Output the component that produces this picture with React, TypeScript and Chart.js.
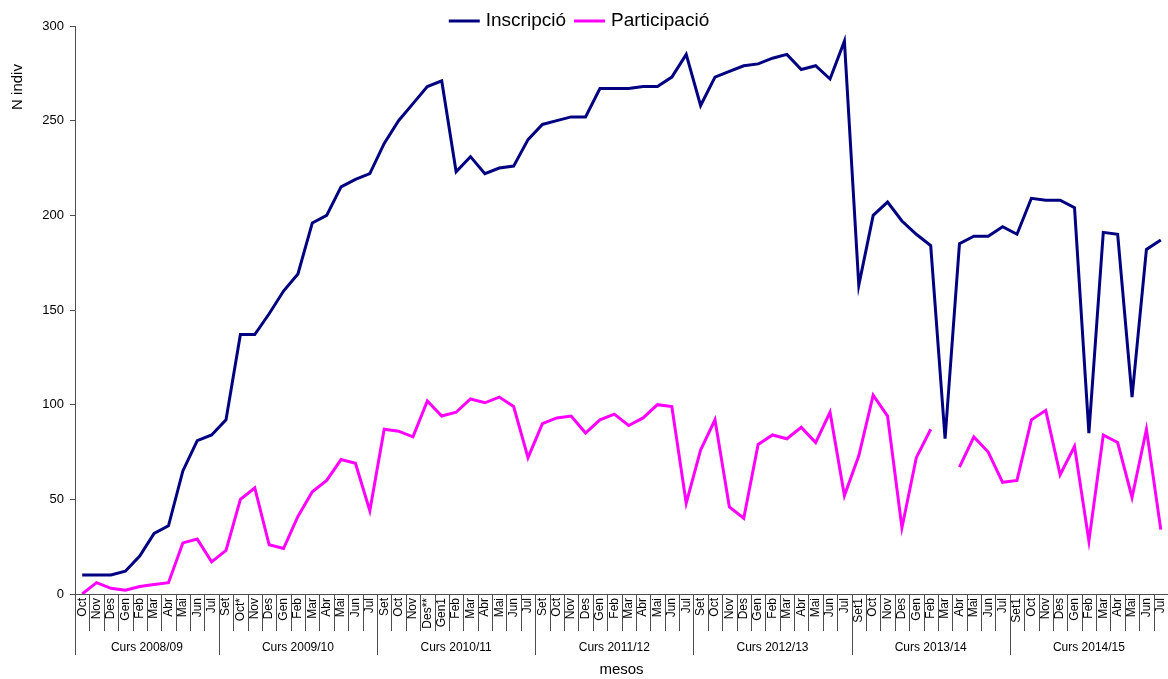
import React, { useEffect, useRef } from "react";
import { Chart, registerables } from "chart.js";

Chart.register(...registerables);

const monthLabels = [
  "Oct", "Nov", "Des", "Gen", "Feb", "Mar", "Abr", "Mai", "Jun", "Jul",
  "Set", "Oct*", "Nov", "Des", "Gen", "Feb", "Mar", "Abr", "Mai", "Jun", "Jul",
  "Set", "Oct", "Nov", "Des**", "Gen1", "Feb", "Mar", "Abr", "Mai", "Jun", "Jul",
  "Set", "Oct", "Nov", "Des", "Gen", "Feb", "Mar", "Abr", "Mai", "Jun", "Jul",
  "Set", "Oct", "Nov", "Des", "Gen", "Feb", "Mar", "Abr", "Mai", "Jun", "Jul",
  "Set1", "Oct", "Nov", "Des", "Gen", "Feb", "Mar", "Abr", "Mai", "Jun", "Jul",
  "Set1", "Oct", "Nov", "Des", "Gen", "Feb", "Mar", "Abr", "Mai", "Jun", "Jul",
];

const courseLabels = [
  "Curs 2008/09", "Curs 2009/10", "Curs 2010/11", "Curs 2011/12",
  "Curs 2012/13", "Curs 2013/14", "Curs 2014/15",
];
const courseLengths = [10, 11, 11, 11, 11, 11, 11];

const inscripcio = [
  10, 10, 10, 12, 20, 32, 36, 65, 81, 84,
  92, 137, 137, 148, 160, 169, 196, 200, 215, 219, 222,
  238, 250, 259, 268, 271, 223, 231, 222, 225, 226, 240,
  248, 250, 252, 252, 267, 267, 267, 268, 268, 273, 285,
  258, 273, 276, 279, 280, 283, 285, 277, 279, 272, 292,
  163, 200, 207, 197, 190, 184, 82, 185, 189, 189, 194,
  190, 209, 208, 208, 204, 85, 191, 190, 104, 182, 187,
];

const participacio: (number | null)[] = [
  0, 6, 3, 2, 4, 5, 6, 27, 29, 17,
  23, 50, 56, 26, 24, 41, 54, 60, 71, 69, 44,
  87, 86, 83, 102, 94, 96, 103, 101, 104, 99, 72,
  90, 93, 94, 85, 92, 95, 89, 93, 100, 99, 48,
  76, 92, 46, 40, 79, 84, 82, 88, 80, 96, 52,
  73, 105, 94, 35, 72, 87, null, 67, 83, 75, 59,
  60, 92, 97, 63, 78, 28, 84, 80, 51, 87, 34,
];

const yTicks = [0, 50, 100, 150, 200, 250, 300];

const FONT = "'Liberation Sans', Arial, Helvetica, sans-serif";
const AXIS_COLOR = "#4d4d4d";

const decorPlugin = {
  id: "decor",
  afterDraw(chart: any) {
    const { ctx, chartArea, scales } = chart;
    const xs = scales.x;
    const n = monthLabels.length;
    const bottom = chartArea.bottom;
    ctx.save();
    ctx.strokeStyle = AXIS_COLOR;
    ctx.lineWidth = 1;

    const starts = new Set<number>();
    let acc = 0;
    courseLengths.forEach((len) => {
      starts.add(acc);
      acc += len;
    });
    starts.add(acc);

    ctx.beginPath();
    for (let i = 0; i <= n; i++) {
      const px = Math.round(xs.getPixelForValue(i - 0.5)) + 0.5;
      if (px > chart.width) continue;
      const len = starts.has(i) ? 61 : 37;
      ctx.moveTo(px, bottom);
      ctx.lineTo(px, bottom + len);
    }
    ctx.stroke();

    ctx.fillStyle = "#000";
    ctx.font = `12px ${FONT}`;
    ctx.textAlign = "center";
    ctx.textBaseline = "middle";
    acc = 0;
    courseLabels.forEach((label, k) => {
      const a = xs.getPixelForValue(acc - 0.5);
      const b = xs.getPixelForValue(acc + courseLengths[k] - 0.5);
      ctx.fillText(label, (a + b) / 2, bottom + 54);
      acc += courseLengths[k];
    });

    ctx.save();
    ctx.translate(18, 87);
    ctx.rotate(-Math.PI / 2);
    ctx.font = `15px ${FONT}`;
    ctx.textAlign = "center";
    ctx.textBaseline = "middle";
    ctx.fillText("N indiv", 0, 0);
    ctx.restore();

    const lineLen = 31;
    const gapText = 6;
    const gapItem = 8;
    ctx.font = `19px ${FONT}`;
    const items = chart.data.datasets.map((d: any) => ({
      label: d.label,
      color: d.borderColor,
      width: d.borderWidth,
      tw: ctx.measureText(d.label).width,
    }));
    const total =
      items.reduce((s: number, it: any) => s + lineLen + gapText + it.tw, 0) +
      gapItem * (items.length - 1);
    let x = chart.width / 2 - 5 - total / 2;
    const ly = 21;
    ctx.textAlign = "left";
    ctx.textBaseline = "middle";
    items.forEach((it: any) => {
      ctx.strokeStyle = it.color;
      ctx.lineWidth = it.width;
      ctx.beginPath();
      ctx.moveTo(x, ly);
      ctx.lineTo(x + lineLen, ly);
      ctx.stroke();
      x += lineLen + gapText;
      ctx.fillStyle = "#000";
      ctx.fillText(it.label, x, ly);
      x += it.tw + gapItem;
    });

    ctx.restore();
  },
};

export default function App() {
  const ref = useRef<HTMLCanvasElement | null>(null);

  useEffect(() => {
    if (!ref.current) return;
    const chart = new Chart(ref.current, {
      type: "line",
      data: {
        labels: monthLabels,
        datasets: [
          {
            label: "Inscripció",
            data: inscripcio,
            borderColor: "#000080",
            backgroundColor: "#000080",
            borderWidth: 3,
            pointRadius: 0,
            tension: 0,
            spanGaps: false,
          },
          {
            label: "Participació",
            data: participacio,
            borderColor: "#ff00ff",
            backgroundColor: "#ff00ff",
            borderWidth: 3,
            pointRadius: 0,
            tension: 0,
            spanGaps: false,
          },
        ],
      },
      options: {
        responsive: false,
        animation: false,
        devicePixelRatio: 1,
        layout: { padding: { top: 26, left: 0, right: 0, bottom: 0 } },
        plugins: {
          legend: { display: false },
          tooltip: { enabled: false },
        },
        scales: {
          x: {
            type: "category",
            offset: true,
            grid: { display: false, drawTicks: false },
            border: { display: true, color: AXIS_COLOR, width: 1 },
            ticks: {
              autoSkip: false,
              minRotation: 90,
              maxRotation: 90,
              padding: 4,
              color: "#000",
              font: { family: FONT, size: 12 },
            },
            title: {
              display: true,
              text: "mesos",
              color: "#000",
              font: { family: FONT, size: 15 },
              padding: { top: 0, bottom: 0 },
            },
            afterFit: (scale: any) => {
              scale.height = 85;
              scale.paddingLeft = 0;
              scale.paddingRight = 0;
            },
          },
          y: {
            min: 0,
            max: 300,
            afterBuildTicks: (scale: any) => {
              scale.ticks = yTicks.map((v) => ({ value: v }));
            },
            grid: {
              display: true,
              drawOnChartArea: false,
              drawTicks: true,
              tickLength: 5,
              color: AXIS_COLOR,
            },
            border: { display: true, color: AXIS_COLOR, width: 1 },
            ticks: {
              padding: 6,
              color: "#000",
              font: { family: FONT, size: 13 },
            },
            afterFit: (scale: any) => {
              scale.width = 75;
              scale.paddingTop = 0;
              scale.paddingBottom = 0;
            },
          },
        },
      },
      plugins: [decorPlugin],
    });
    return () => chart.destroy();
  }, []);

  return (
    <div style={{ position: "absolute", left: 0, top: 0, width: 1168, height: 679 }}>
      <canvas ref={ref} width={1168} height={679} style={{ display: "block", width: 1168, height: 679 }} />
    </div>
  );
}
